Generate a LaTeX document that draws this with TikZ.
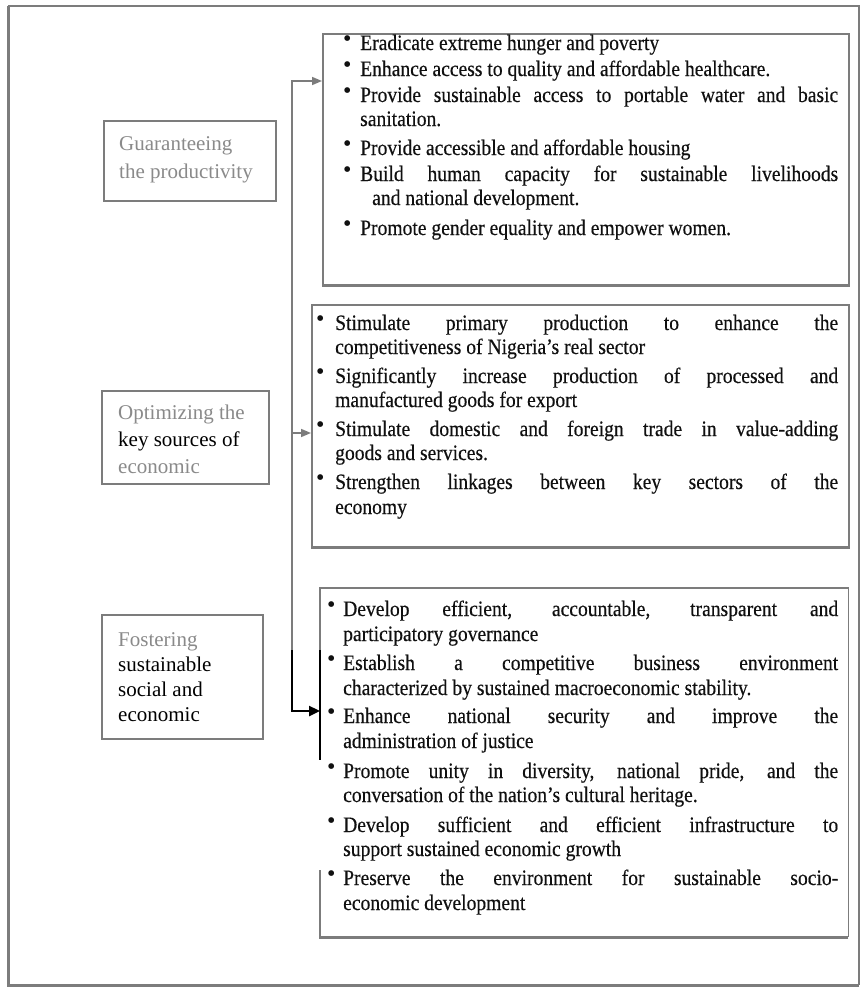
\documentclass[tikz,border=0pt]{standalone}
\usepackage{fontspec}
\setmainfont{Liberation Serif}
\newfontfamily\bodyfont[FakeStretch=0.89,FakeBold=0.3]{Liberation Serif}
\usetikzlibrary{arrows.meta}

\definecolor{framegray}{HTML}{7C7C7C}
\definecolor{labelgray}{HTML}{8A8A8A}
\definecolor{ink}{HTML}{101010}

% one line of body text: name, x, baseline y, text
\newcommand{\rline}[4]{\node[bodytext] (#1) at (#2,#3) {#4};}
% one justified line of body text: name, x, baseline y, width, text
\newcommand{\jline}[5]{\node[bodytext] (#1) at (#2,#3) {\makebox[#4pt][s]{#5}};}
% bullet mark: name, x, baseline y
\newcommand{\bul}[3]{\node[bulletmark] (#1) at (#2,#3) {\textbullet};}
% label line in the left-hand boxes: name, x, baseline y, colour, text
\newcommand{\sline}[5]{\node[sidetext, text=#4] (#1) at (#2,#3) {#5};}

\tikzset{
  panel/.style={draw=framegray, line width=1.8pt, inner sep=0pt, anchor=north west},
  bodytext/.style={anchor=base west, inner sep=0pt, text=ink,
    font=\bodyfont\fontsize{22}{26}\selectfont},
  bulletmark/.style={anchor=base west, inner sep=0pt, text=ink, yshift=4pt,
    font=\fontsize{24}{26}\selectfont},
  sidetext/.style={anchor=base west, inner sep=0pt, font=\fontsize{21}{25}\selectfont},
  link/.style={draw=framegray, line width=1.6pt},
  linkarrow/.style={link, -{Triangle[length=10pt,width=8pt]}},
  darklink/.style={draw=black, line width=2.4pt},
  darkarrow/.style={darklink, -{Triangle[length=11pt,width=10pt]}},
  heavyedge/.style={draw=framegray, line width=2.8pt}
}

\begin{document}
\begin{tikzpicture}[x=1pt, y=-1pt]
\useasboundingbox (0,0) rectangle (866,993);
\fill[white] (0,0) rectangle (866,993);

% outer frame
\draw[framegray, line width=1.4pt] (8,6) -- (859,6) -- (859,985);
\draw[framegray, line width=3pt] (859,985) -- (8,985) -- (8,6);

% left-hand boxes
\node[panel, minimum width=172pt, minimum height=80pt] (guar) at (103,120) {};
\node[panel, minimum width=167pt, minimum height=93pt] (opti) at (101,390) {};
\node[panel, minimum width=161pt, minimum height=124pt] (fost) at (101,614) {};

\sline{g1}{119}{150}{labelgray}{Guaranteeing}
\sline{g2}{119}{178}{labelgray}{the productivity}

\sline{o1}{118}{419}{labelgray}{Optimizing the}
\sline{o2}{118}{446}{black}{key sources of}
\sline{o3}{118}{473}{labelgray}{economic}

\sline{f1}{118}{646}{labelgray}{Fostering}
\sline{f2}{118}{671}{black}{sustainable}
\sline{f3}{118}{696}{black}{social and}
\sline{f4}{118}{721}{black}{economic}

% right-hand boxes
\node[panel, minimum width=526pt, minimum height=251pt] (goals) at (322,33) {};
\node[panel, minimum width=537pt, minimum height=242pt] (econ) at (311,304) {};
\draw[heavyedge] (goals.south west) -- (goals.south east);
\draw[heavyedge] (econ.south west) -- (econ.south east);
\node[inner sep=0pt, anchor=north west, minimum width=528pt, minimum height=349pt] (gov) at (320,588) {};
\draw[framegray, line width=1.8pt] (320,650) -- (gov.north west) -- (gov.north east) -- (gov.south east);
\draw[heavyedge] (gov.south east) -- (gov.south west) -- (320,870);
\draw[black, line width=1.6pt] (320,650) -- (320,760);

% first group of goals
\bul{a1b}{343}{50}   \rline{a1}{360}{50}{Eradicate extreme hunger and poverty}
\bul{a2b}{343}{76}   \rline{a2}{360}{76}{Enhance access to quality and affordable healthcare.}
\bul{a3b}{343}{102}  \jline{a3}{360}{102}{478}{Provide sustainable access to portable water and basic}
                     \rline{a3c}{360}{126}{sanitation.}
\bul{a4b}{343}{155}  \rline{a4}{360}{155}{Provide accessible and affordable housing}
\bul{a5b}{343}{181}  \jline{a5}{360}{181}{478}{Build human capacity for sustainable livelihoods}
                     \rline{a5c}{372}{205}{and national development.}
\bul{a6b}{343}{235}  \rline{a6}{360}{235}{Promote gender equality and empower women.}

% second group of goals
\bul{b1b}{316}{330}  \jline{b1}{335}{330}{503}{Stimulate primary production to enhance the}
                     \rline{b1c}{335}{354}{competitiveness of Nigeria’s real sector}
\bul{b2b}{316}{383}  \jline{b2}{335}{383}{503}{Significantly increase production of processed and}
                     \rline{b2c}{335}{407}{manufactured goods for export}
\bul{b3b}{316}{436}  \jline{b3}{335}{436}{503}{Stimulate domestic and foreign trade in value-adding}
                     \rline{b3c}{335}{460}{goods and services.}
\bul{b4b}{316}{489}  \jline{b4}{335}{489}{503}{Strengthen linkages between key sectors of the}
                     \rline{b4c}{335}{514}{economy}

% third group of goals
\bul{c1b}{327}{616}  \jline{c1}{343}{616}{495}{Develop efficient, accountable, transparent and}
                     \rline{c1c}{343}{641}{participatory governance}
\bul{c2b}{327}{670}  \jline{c2}{343}{670}{495}{Establish a competitive business environment}
                     \rline{c2c}{343}{695}{characterized by sustained macroeconomic stability.}
\bul{c3b}{327}{723}  \jline{c3}{343}{723}{495}{Enhance national security and improve the}
                     \rline{c3c}{343}{748}{administration of justice}
\bul{c4b}{327}{778}  \jline{c4}{343}{778}{495}{Promote unity in diversity, national pride, and the}
                     \rline{c4c}{343}{802}{conversation of the nation’s cultural heritage.}
\bul{c5b}{327}{832}  \jline{c5}{343}{832}{495}{Develop sufficient and efficient infrastructure to}
                     \rline{c5c}{343}{856}{support sustained economic growth}
\bul{c6b}{327}{885}  \jline{c6}{343}{885}{495}{Preserve the environment for sustainable socio-}
                     \rline{c6c}{343}{910}{economic development}

% connector spine and arrows
\coordinate (spinetop) at (292,81);
\coordinate (spinemid) at (292,433);
\coordinate (spinedark) at (292,650);
\coordinate (spinebot) at (292,711);
\draw[linkarrow] (spinedark) -- (spinetop) -- (spinetop -| goals.west);
\draw[linkarrow] (spinemid) -- (spinemid -| econ.west);
\draw[darkarrow] (spinedark) -- (spinebot) -- (spinebot -| gov.west);
\end{tikzpicture}
\end{document}
